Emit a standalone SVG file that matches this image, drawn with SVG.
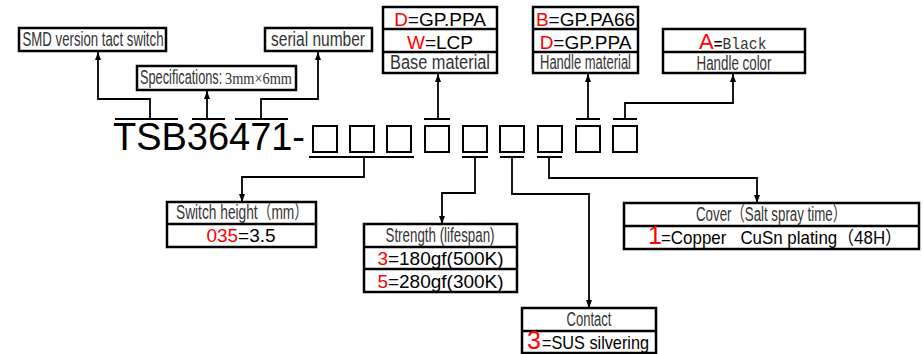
<svg xmlns="http://www.w3.org/2000/svg" width="924" height="354" viewBox="0 0 924 354">
<defs>
<marker id="arr" markerUnits="userSpaceOnUse" markerWidth="8" markerHeight="6" refX="8" refY="3" orient="auto">
<path d="M0,0 L8,3 L0,6 z" fill="#000"/>
</marker>
<style>
.box{fill:#fff;stroke:#000;stroke-width:2.5}
.div{stroke:#000;stroke-width:2.5}
.sq{fill:none;stroke:#000;stroke-width:2}
.bar{stroke:#000;stroke-width:2}
.con{fill:none;stroke:#000;stroke-width:1.8}
.arr{marker-end:url(#arr)}
.lab{font-family:"Liberation Sans",Arial,"Noto Sans CJK SC",sans-serif;font-size:19.5px;fill:#333;text-anchor:middle}
.val{font-family:"Liberation Sans",Arial,sans-serif;font-size:19px;fill:#000;text-anchor:middle}
.red{fill:#f00}
.main{font-family:"Liberation Sans",Arial,sans-serif;font-size:38px;fill:#000}
.ser{font-family:"Liberation Serif","Times New Roman",serif;fill:#333}
</style>
</defs>
<rect width="924" height="354" fill="#fff"/>

<g id="title">
<text class="main" x="113" y="150" textLength="192" lengthAdjust="spacingAndGlyphs">TSB36471-</text>
<rect class="sq" x="313" y="126" width="24" height="26"/>
<rect class="sq" x="350" y="126" width="24" height="26"/>
<rect class="sq" x="387" y="126" width="24" height="26"/>
<rect class="sq" x="425" y="126" width="24" height="26"/>
<rect class="sq" x="463" y="126" width="24" height="26"/>
<rect class="sq" x="500" y="126" width="24" height="26"/>
<rect class="sq" x="538" y="126" width="24" height="26"/>
<rect class="sq" x="576" y="126" width="24" height="26"/>
<rect class="sq" x="613" y="126" width="24" height="26"/>
</g>

<g id="n-smd">
<rect class="box" x="19" y="28" width="147" height="23"/>
<text class="lab" x="93" y="46" textLength="141" lengthAdjust="spacingAndGlyphs">SMD version tact switch</text>
</g>

<g id="n-spec">
<rect class="box" x="137" y="66" width="159" height="24"/>
<text class="lab" transform="translate(140,84) scale(0.655,1)" x="0" y="0" style="text-anchor:start">Specifications:</text>
<text class="ser" x="225" y="84" font-size="16" textLength="67" lengthAdjust="spacingAndGlyphs">3mm×6mm</text>
</g>

<g id="n-serial">
<rect class="box" x="265" y="28" width="107" height="23"/>
<text class="lab" x="318" y="46" textLength="94" lengthAdjust="spacingAndGlyphs">serial number</text>
</g>

<g id="n-base">
<rect class="box" x="383" y="7" width="114" height="66"/>
<line class="div" x1="383" y1="29" x2="497" y2="29"/>
<line class="div" x1="383" y1="52" x2="497" y2="52"/>
<text class="val" x="440" y="26"><tspan class="red">D</tspan>=GP.PPA</text>
<text class="val" x="440" y="49"><tspan class="red">W</tspan>=LCP</text>
<text class="lab" x="440" y="69" textLength="100" lengthAdjust="spacingAndGlyphs">Base material</text>
</g>

<g id="n-handle-mat">
<rect class="box" x="533" y="7" width="105" height="66"/>
<line class="div" x1="533" y1="29" x2="638" y2="29"/>
<line class="div" x1="533" y1="52" x2="638" y2="52"/>
<text class="val" x="585.5" y="26"><tspan class="red">B</tspan>=GP.PA66</text>
<text class="val" x="585.5" y="49"><tspan class="red">D</tspan>=GP.PPA</text>
<text class="lab" x="585.5" y="69" textLength="91" lengthAdjust="spacingAndGlyphs">Handle material</text>
</g>

<g id="n-handle-color">
<rect class="box" x="663" y="29" width="142" height="44"/>
<line class="div" x1="663" y1="52" x2="805" y2="52"/>
<text x="699" y="48.5" style="font-family:'Liberation Sans',Arial,sans-serif"><tspan class="red" font-size="22">A</tspan><tspan font-size="15" fill="#000" font-weight="bold">=</tspan><tspan font-family="Liberation Mono" font-size="16.5" fill="#333" textLength="44" lengthAdjust="spacingAndGlyphs">Black</tspan></text>
<text class="lab" x="734" y="69.5" textLength="75" lengthAdjust="spacingAndGlyphs">Handle color</text>
</g>

<g id="n-height">
<rect class="box" x="167" y="202" width="149" height="45"/>
<line class="div" x1="167" y1="224" x2="316" y2="224"/>
<text class="lab" x="242" y="219" textLength="132" lengthAdjust="spacingAndGlyphs">Switch height（mm）</text>
<text class="val" x="241" y="242"><tspan class="red">035</tspan>=3.5</text>
</g>

<g id="n-strength">
<rect class="box" x="364" y="224" width="153" height="68"/>
<line class="div" x1="364" y1="247" x2="517" y2="247"/>
<line class="div" x1="364" y1="269" x2="517" y2="269"/>
<text class="lab" x="440" y="242" textLength="109" lengthAdjust="spacingAndGlyphs">Strength (lifespan)</text>
<text class="val" x="440.5" y="265"><tspan class="red">3</tspan>=180gf(500K)</text>
<text class="val" x="440.5" y="288"><tspan class="red">5</tspan>=280gf(300K)</text>
</g>

<g id="n-contact">
<rect class="box" x="522" y="308" width="134" height="45"/>
<line class="div" x1="522" y1="331" x2="656" y2="331"/>
<text class="lab" x="589" y="326" textLength="45" lengthAdjust="spacingAndGlyphs">Contact</text>
<text x="527" y="349" style="font-family:'Liberation Sans',Arial,sans-serif;font-size:25px;fill:#f00">3</text>
<text x="542" y="349" style="font-family:'Liberation Sans',Arial,sans-serif;font-size:19px;fill:#000" textLength="107" lengthAdjust="spacingAndGlyphs">=SUS silvering</text>
</g>

<g id="n-cover">
<rect class="box" x="624" y="203" width="295" height="46"/>
<line class="div" x1="624" y1="226" x2="919" y2="226"/>
<text class="lab" x="771" y="221" textLength="150" lengthAdjust="spacingAndGlyphs">Cover（Salt spray time）</text>
<text x="648" y="244" style="font-family:'Liberation Sans',Arial,sans-serif;font-size:25px;fill:#f00">1</text>
<text x="661" y="244" xml:space="preserve" style="white-space:pre;font-family:'Liberation Sans',Arial,'Noto Sans CJK SC',sans-serif;font-size:18.5px;fill:#000" textLength="241" lengthAdjust="spacingAndGlyphs">=Copper   CuSn plating（48H）</text>
</g>

<g id="connectors">
<line class="bar" x1="115" y1="119" x2="178" y2="119"/>
<line class="bar" x1="192" y1="119" x2="225" y2="119"/>
<line class="bar" x1="235" y1="119" x2="288" y2="119"/>
<line class="bar" x1="424" y1="119" x2="450" y2="119"/>
<line class="bar" x1="576" y1="119" x2="600" y2="119"/>
<line class="bar" x1="613" y1="119" x2="637" y2="119"/>
<line class="bar" x1="309" y1="157" x2="414" y2="157"/>
<line class="bar" x1="462" y1="157" x2="488" y2="157"/>
<line class="bar" x1="500" y1="157" x2="524" y2="157"/>
<line class="bar" x1="537" y1="157" x2="562" y2="157"/>
<polyline class="con arr" points="150,119 150,99 98,99 98,52"/>
<polyline class="con arr" points="207,119 207,91"/>
<polyline class="con arr" points="261,119 261,99 318,99 318,52"/>
<polyline class="con arr" points="438,119 438,74"/>
<polyline class="con arr" points="588,119 588,74"/>
<polyline class="con arr" points="625,119 625,103 733,103 733,74"/>
<polyline class="con arr" points="364,157 364,177 242,177 242,202"/>
<polyline class="con arr" points="475,157 475,193 442,193 442,224"/>
<polyline class="con arr" points="512,157 512,194 589,194 589,308"/>
<polyline class="con arr" points="549,157 549,178 757,178 757,203"/>
</g>
</svg>
